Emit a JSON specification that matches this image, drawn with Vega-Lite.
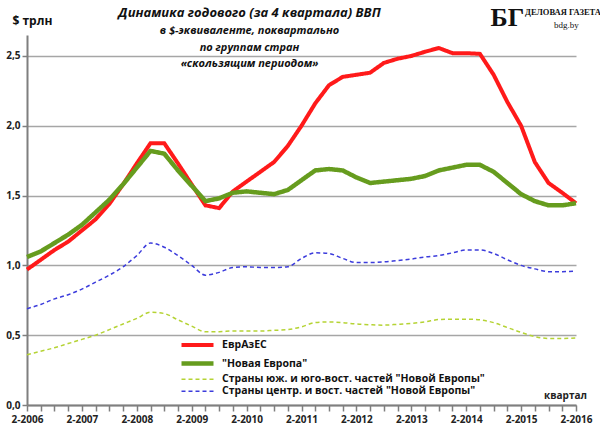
{
  "$schema": "https://vega.github.io/schema/vega-lite/v6.json",
  "autosize": {"type": "none"},
  "padding": {"left": 27, "top": 35, "right": 24, "bottom": 24},
  "width": 549,
  "height": 370,
  "background": "white",
  "title": {
    "text": "Динамика годового (за 4 квартала) ВВП",
    "subtitle": ["в $-эквиваленте, поквартально", "по группам стран", "«скользящим  периодом»"],
    "anchor": "middle",
    "dx": -52,
    "offset": -64,
    "font": "Open Sans",
    "fontSize": 13,
    "fontWeight": "bold",
    "fontStyle": "italic",
    "color": "#111111",
    "subtitleFont": "Open Sans",
    "subtitleFontSize": 11,
    "subtitleFontWeight": "bold",
    "subtitleFontStyle": "italic",
    "subtitleColor": "#111111",
    "subtitlePadding": 5,
    "subtitleLineHeight": 16.5
  },
  "data": {
    "values": [
      {"quarter": "2-2006", "eaes": 0.97, "ne": 1.06, "south": 0.36, "central": 0.69},
      {"quarter": "3-2006", "eaes": 1.04, "ne": 1.10, "south": 0.385, "central": 0.72},
      {"quarter": "4-2006", "eaes": 1.11, "ne": 1.16, "south": 0.41, "central": 0.76},
      {"quarter": "1-2007", "eaes": 1.17, "ne": 1.22, "south": 0.44, "central": 0.79},
      {"quarter": "2-2007", "eaes": 1.25, "ne": 1.29, "south": 0.47, "central": 0.83},
      {"quarter": "3-2007", "eaes": 1.33, "ne": 1.38, "south": 0.50, "central": 0.88},
      {"quarter": "4-2007", "eaes": 1.44, "ne": 1.47, "south": 0.54, "central": 0.93},
      {"quarter": "1-2008", "eaes": 1.58, "ne": 1.58, "south": 0.58, "central": 0.99},
      {"quarter": "2-2008", "eaes": 1.73, "ne": 1.70, "south": 0.62, "central": 1.07},
      {"quarter": "3-2008", "eaes": 1.875, "ne": 1.82, "south": 0.665, "central": 1.16},
      {"quarter": "4-2008", "eaes": 1.875, "ne": 1.80, "south": 0.655, "central": 1.13},
      {"quarter": "1-2009", "eaes": 1.73, "ne": 1.68, "south": 0.61, "central": 1.07},
      {"quarter": "2-2009", "eaes": 1.58, "ne": 1.57, "south": 0.565, "central": 1.00},
      {"quarter": "3-2009", "eaes": 1.43, "ne": 1.46, "south": 0.525, "central": 0.93},
      {"quarter": "4-2009", "eaes": 1.41, "ne": 1.48, "south": 0.525, "central": 0.95},
      {"quarter": "1-2010", "eaes": 1.53, "ne": 1.52, "south": 0.53, "central": 0.985},
      {"quarter": "2-2010", "eaes": 1.60, "ne": 1.53, "south": 0.53, "central": 0.99},
      {"quarter": "3-2010", "eaes": 1.67, "ne": 1.52, "south": 0.53, "central": 0.985},
      {"quarter": "4-2010", "eaes": 1.74, "ne": 1.51, "south": 0.535, "central": 0.985},
      {"quarter": "1-2011", "eaes": 1.855, "ne": 1.54, "south": 0.54, "central": 0.99},
      {"quarter": "2-2011", "eaes": 2.0, "ne": 1.61, "south": 0.56, "central": 1.05},
      {"quarter": "3-2011", "eaes": 2.16, "ne": 1.68, "south": 0.59, "central": 1.09},
      {"quarter": "4-2011", "eaes": 2.29, "ne": 1.69, "south": 0.595, "central": 1.085},
      {"quarter": "1-2012", "eaes": 2.35, "ne": 1.68, "south": 0.59, "central": 1.05},
      {"quarter": "2-2012", "eaes": 2.365, "ne": 1.63, "south": 0.58, "central": 1.02},
      {"quarter": "3-2012", "eaes": 2.38, "ne": 1.59, "south": 0.575, "central": 1.02},
      {"quarter": "4-2012", "eaes": 2.45, "ne": 1.60, "south": 0.572, "central": 1.025},
      {"quarter": "1-2013", "eaes": 2.48, "ne": 1.61, "south": 0.578, "central": 1.035},
      {"quarter": "2-2013", "eaes": 2.50, "ne": 1.62, "south": 0.585, "central": 1.045},
      {"quarter": "3-2013", "eaes": 2.53, "ne": 1.64, "south": 0.595, "central": 1.06},
      {"quarter": "4-2013", "eaes": 2.557, "ne": 1.68, "south": 0.612, "central": 1.07},
      {"quarter": "1-2014", "eaes": 2.52, "ne": 1.70, "south": 0.615, "central": 1.09},
      {"quarter": "2-2014", "eaes": 2.52, "ne": 1.72, "south": 0.615, "central": 1.11},
      {"quarter": "3-2014", "eaes": 2.515, "ne": 1.72, "south": 0.61, "central": 1.11},
      {"quarter": "4-2014", "eaes": 2.365, "ne": 1.67, "south": 0.59, "central": 1.085},
      {"quarter": "1-2015", "eaes": 2.17, "ne": 1.59, "south": 0.555, "central": 1.04},
      {"quarter": "2-2015", "eaes": 2.0, "ne": 1.51, "south": 0.52, "central": 1.00},
      {"quarter": "3-2015", "eaes": 1.74, "ne": 1.46, "south": 0.49, "central": 0.975},
      {"quarter": "4-2015", "eaes": 1.59, "ne": 1.43, "south": 0.477, "central": 0.955},
      {"quarter": "1-2016", "eaes": 1.52, "ne": 1.43, "south": 0.477, "central": 0.955},
      {"quarter": "2-2016", "eaes": 1.445, "ne": 1.445, "south": 0.48, "central": 0.96}
    ]
  },
  "encoding": {
    "x": {
      "field": "quarter",
      "type": "ordinal",
      "sort": null,
      "scale": {"type": "point", "padding": 0},
      "axis": {
        "title": "квартал",
        "titleX": 538,
        "titleY": -10,
        "titleAlign": "center",
        "titleBaseline": "middle",
        "titleFont": "Open Sans",
        "titleFontSize": 10,
        "titleFontWeight": "bold",
        "titleColor": "#222222",
        "labelExpr": "substring(datum.label, 0, 2) == '2-' ? datum.label : ''",
        "labelAngle": 0,
        "labelOverlap": false,
        "labelFont": "Open Sans",
        "labelFontSize": 10,
        "labelFontWeight": "bold",
        "labelColor": "#222222",
        "labelPadding": 3,
        "domainColor": "#7f7f7f",
        "domainWidth": 2,
        "tickColor": "#7f7f7f",
        "tickWidth": 1.5,
        "tickSize": 6,
        "grid": false
      }
    },
    "y": {
      "type": "quantitative",
      "scale": {"domain": [0, 2.65], "nice": false},
      "axis": {
        "title": "$ трлн",
        "titleAngle": 0,
        "titleX": -15,
        "titleY": -15,
        "titleAlign": "left",
        "titleBaseline": "middle",
        "titleFont": "Open Sans",
        "titleFontSize": 12,
        "titleFontWeight": "bold",
        "titleColor": "#111111",
        "values": [0, 0.5, 1, 1.5, 2, 2.5],
        "labelExpr": "replace(format(datum.value, '.1f'), '.', ',')",
        "labelFont": "Open Sans",
        "labelFontSize": 10,
        "labelFontWeight": "bold",
        "labelColor": "#222222",
        "labelPadding": 2,
        "domainColor": "#7f7f7f",
        "domainWidth": 2,
        "tickColor": "#7f7f7f",
        "tickSize": 5,
        "tickWidth": 1.5,
        "grid": true,
        "gridColor": "#a6a6a6",
        "gridWidth": 1.5
      }
    }
  },
  "layer": [
    {
      "transform": [
        {"fold": ["eaes", "ne", "south", "central"], "as": ["series", "value"]},
        {"filter": "datum.series == 'eaes' || datum.series == 'ne'"}
      ],
      "mark": {"type": "line"},
      "encoding": {
        "y": {"field": "value", "type": "quantitative"},
        "color": {
          "field": "series", "type": "nominal",
          "scale": {"domain": ["eaes", "ne", "south", "central"], "range": ["#ff1a1a", "#669c1e", "#b5d334", "#3c3cdc"]},
          "legend": {
            "title": null,
            "orient": "none",
            "legendX": 164,
            "legendY": 304,
            "padding": 0,
            "symbolType": "M-4,0H4",
            "symbolSize": 64,
            "symbolOpacity": 1,
            "labelExpr": "datum.label == 'eaes' ? 'ЕврАзЕС' : datum.label == 'ne' ? '\"Новая Европа\"' : datum.label == 'south' ? 'Страны юж. и юго-вост. частей \"Новой Европы\"' : 'Страны центр. и вост. частей \"Новой Европы\"'",
            "labelFont": "Open Sans",
            "labelFontSize": 10.5,
            "labelFontWeight": "bold",
            "labelColor": "#111111",
            "labelOffset": 18,
            "labelLimit": 400,
            "rowPadding": 1
          }
        },
        "strokeDash": {
          "field": "series", "type": "nominal",
          "scale": {"domain": ["eaes", "ne", "south", "central"], "range": [[1, 0], [1, 0], [4, 3], [4, 3]]},
          "legend": {"title": null}
        },
        "strokeWidth": {
          "field": "series", "type": "nominal",
          "scale": {"type": "ordinal", "domain": ["eaes", "ne", "south", "central"], "range": [4, 4.5, 1.5, 1.5]},
          "legend": {"title": null}
        }
      }
    },
    {
      "transform": [
        {"fold": ["eaes", "ne", "south", "central"], "as": ["series", "value"]},
        {"filter": "datum.series == 'south' || datum.series == 'central'"}
      ],
      "mark": {"type": "line", "interpolate": "monotone"},
      "encoding": {
        "y": {"field": "value", "type": "quantitative"},
        "color": {
          "field": "series", "type": "nominal",
          "scale": {"domain": ["eaes", "ne", "south", "central"], "range": ["#ff1a1a", "#669c1e", "#b5d334", "#3c3cdc"]}
        },
        "strokeDash": {
          "field": "series", "type": "nominal",
          "scale": {"domain": ["eaes", "ne", "south", "central"], "range": [[1, 0], [1, 0], [4, 3], [4, 3]]}
        },
        "strokeWidth": {
          "field": "series", "type": "nominal",
          "scale": {"type": "ordinal", "domain": ["eaes", "ne", "south", "central"], "range": [4, 4.5, 1.5, 1.5]}
        }
      }
    },
    {
      "data": {"values": [{"logo": "БГ"}]},
      "mark": {"type": "text", "font": "Liberation Serif", "fontSize": 26, "fontWeight": "bold", "align": "center", "baseline": "middle", "color": "#111111"},
      "encoding": {
        "x": {"datum": "1-2015"},
        "y": {"datum": 2.77},
        "text": {"field": "logo"}
      }
    },
    {
      "data": {"values": [{"logo": "ДЕЛОВАЯ ГАЗЕТА"}]},
      "mark": {"type": "text", "font": "Liberation Serif", "fontSize": 8.5, "fontWeight": "bold", "align": "left", "baseline": "middle", "dx": 4, "color": "#111111"},
      "encoding": {
        "x": {"datum": "2-2015"},
        "y": {"datum": 2.815},
        "text": {"field": "logo"}
      }
    },
    {
      "data": {"values": [{"logo": "bdg.by"}]},
      "mark": {"type": "text", "font": "Liberation Serif", "fontSize": 9, "align": "center", "baseline": "middle", "dx": 4, "color": "#111111"},
      "encoding": {
        "x": {"datum": "1-2016"},
        "y": {"datum": 2.72},
        "text": {"field": "logo"}
      }
    }
  ],
  "resolve": {"scale": {"color": "shared", "strokeDash": "shared", "strokeWidth": "shared"}},
  "config": {
    "view": {"stroke": null}
  }
}
